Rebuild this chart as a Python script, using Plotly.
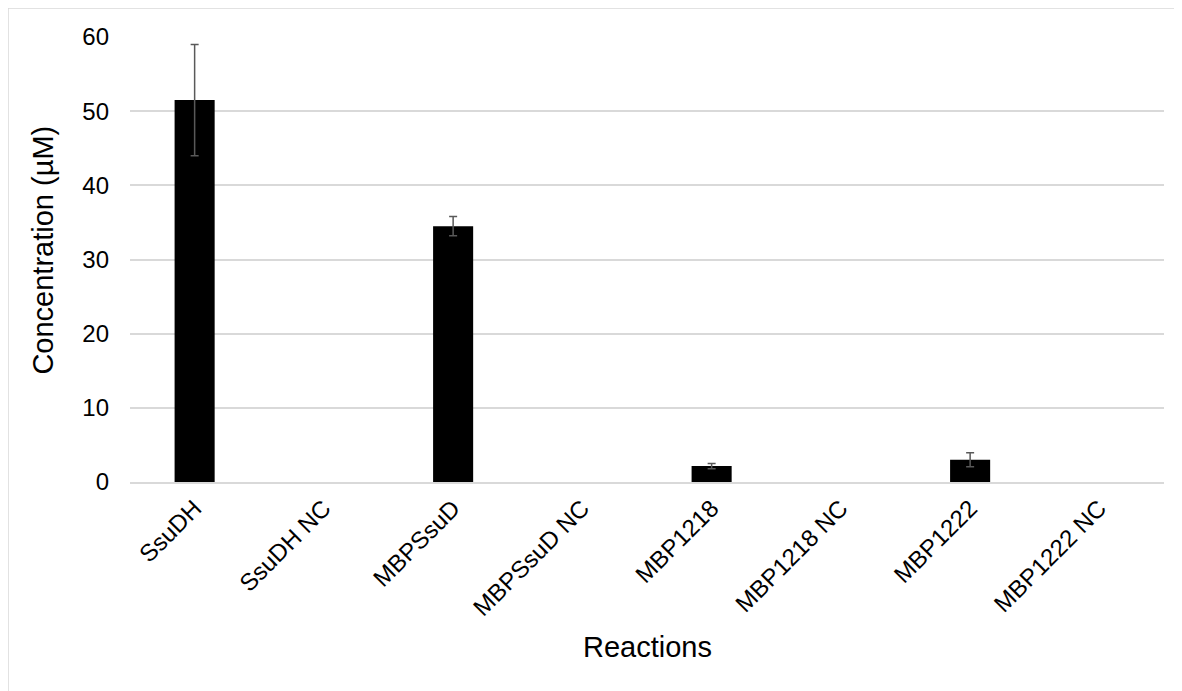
import plotly.graph_objects as go

categories = ["SsuDH", "SsuDH NC", "MBPSsuD", "MBPSsuD NC", "MBP1218", "MBP1218 NC", "MBP1222", "MBP1222 NC"]
values = [51.5, 0, 34.5, 0, 2.15, 0, 3.0, 0]
errors = [7.5, 0, 1.3, 0, 0.35, 0, 0.95, 0]
err_visible = [True, False, True, False, True, False, True, False]
y_ticks = [0, 10, 20, 30, 40, 50, 60]

eb_x = [c for c, v in zip(categories, err_visible) if v]
eb_y = [y for y, v in zip(values, err_visible) if v]
eb_e = [e for e, v in zip(errors, err_visible) if v]

W, H = 1182, 691
ML, MR, MT, MB = 122, 26, 29, 217
PW, PH = W - ML - MR, H - MT - MB

fig = go.Figure()
fig.add_trace(go.Bar(
    x=categories, y=values,
    marker=dict(color="#000000", line=dict(width=0)),
))
fig.add_trace(go.Scatter(
    x=eb_x, y=eb_y, mode="markers",
    marker=dict(size=1, opacity=0),
    error_y=dict(type="data", array=eb_e, visible=True, color="#595959", thickness=1.5, width=4),
    hoverinfo="skip",
))

fig.update_layout(
    width=W, height=H,
    paper_bgcolor="white", plot_bgcolor="white",
    margin=dict(l=ML, r=MR, t=MT, b=MB),
    bargap=0.69,
    showlegend=False,
    font=dict(family="Liberation Sans, Arial, sans-serif", color="#000000"),
    xaxis=dict(
        tickangle=-45, tickfont=dict(size=24), showgrid=False,
        showline=True, linecolor="#d9d9d9", linewidth=1.5,
        automargin=False, ticklabelstandoff=1,
        categoryorder="array", categoryarray=categories,
    ),
    yaxis=dict(
        range=[0, 60], tickvals=y_ticks, tickfont=dict(size=24),
        showgrid=True, gridcolor="#d9d9d9", gridwidth=1.5,
        zeroline=False, showline=False,
        automargin=False, ticklabelstandoff=20,
    ),
    annotations=[
        dict(text="Concentration (µM)", xref="paper", yref="paper",
             x=(35 - ML) / PW, y=0.52, textangle=-90, showarrow=False,
             font=dict(size=29), xanchor="center", yanchor="middle"),
        dict(text="Reactions", xref="paper", yref="paper",
             x=0.5, y=-(639 - (H - MB)) / PH, showarrow=False,
             font=dict(size=29), xanchor="center", yanchor="middle"),
    ],
    shapes=[dict(type="rect", xref="paper", yref="paper",
                 x0=-ML / PW, x1=(PW + MR) / PW, y0=-MB / PH, y1=(PH + MT) / PH,
                 line=dict(color="#d9d9d9", width=1.5), layer="below")],
)

fig.write_html("out.html")
